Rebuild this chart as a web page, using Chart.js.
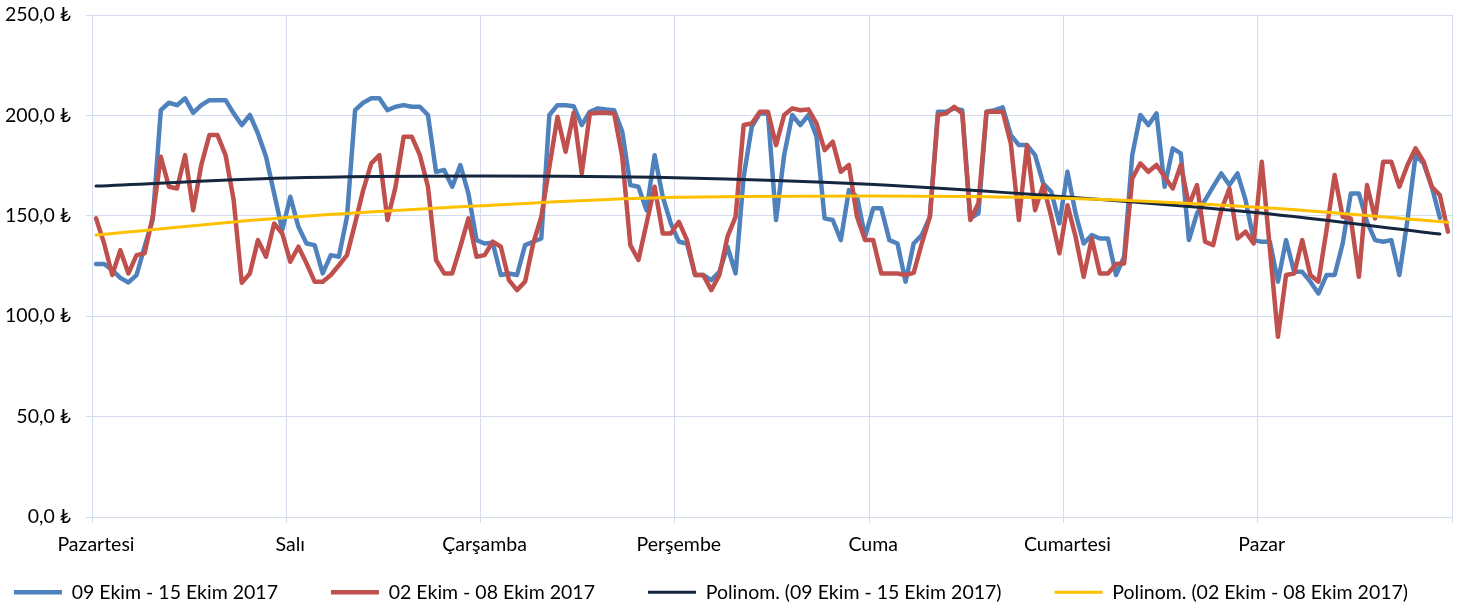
<!DOCTYPE html>
<html>
<head>
<meta charset="utf-8">
<script src="https://cdn.jsdelivr.net/npm/chart.js@4.4.1/dist/chart.umd.min.js"></script>
<style>
html,body{margin:0;padding:0;background:#fff;overflow:hidden;width:1459px;height:607px;}
#wrap{position:relative;width:1459px;height:612px;}
</style>
</head>
<body>
<div id="wrap"><canvas id="c"></canvas></div>
<script>
// Day names (one label per 24 hourly points)
const days = ['Pazartesi', 'Salı', 'Çarşamba', 'Perşembe', 'Cuma', 'Cumartesi', 'Pazar'];
const yTickLabels = ['0,0 ₺', '50,0 ₺', '100,0 ₺', '150,0 ₺', '200,0 ₺', '250,0 ₺'];
const seriesNames = ['09 Ekim - 15 Ekim 2017', '02 Ekim - 08 Ekim 2017',
  'Polinom. (09 Ekim - 15 Ekim 2017)', 'Polinom. (02 Ekim - 08 Ekim 2017)'];

// Hourly values, 09-15 Ekim 2017
const week2 = [
  126, 126, 123, 119.1, 116.8, 120.5, 134.6, 148, 202.6, 206.3, 205.1, 208.5, 201.3, 205.1, 207.6, 207.6, 207.6, 201, 195.2, 200.2, 191, 179.4, 161.1, 142.9,
  159.5, 144.5, 136.2, 135.4, 121.3, 130.4, 129.6, 149.5, 202.6, 206.3, 208.5, 208.5, 202.6, 204.3, 205.1, 204.3, 204.3, 200.2, 171.9, 172.8, 164.5, 175.3, 161.1, 137.9,
  136.2, 136.6, 120.5, 121.3, 120.5, 135.4, 137.1, 138.7, 200.2, 205.1, 205.1, 204.6, 195.2, 201.8, 203.5, 203, 202.6, 191.9, 165.3, 164.5, 152.8, 180.2, 159.5, 146.2,
  137.1, 136.2, 120.5, 120.5, 118, 122.1, 134.6, 121.3, 169.4, 194.3, 201, 201, 147.9, 180.2, 200.2, 195.2, 200.2, 189.4, 148.7, 147.9, 137.9, 162.8, 159.5, 139.6,
  153.7, 153.7, 137.9, 136.2, 117.2, 136.2, 140.4, 149.5, 201.8, 201.8, 203.5, 202.6, 148.7, 151.2, 201.8, 202.6, 204, 190.2, 185.2, 185.2, 180.2, 166.1, 162, 146.2,
  171.9, 151.2, 136.2, 140.4, 138.7, 138.7, 120.5, 129.6, 180.2, 200.2, 195.2, 201, 164.5, 183.6, 181.1, 137.9, 151.2, 157.8, 164.5, 171.1, 165.3, 171.1, 157.8, 137.9,
  137.1, 137.1, 117.2, 137.9, 122.1, 122.1, 117.2, 111.3, 120.5, 120.5, 136.2, 161.1, 161.1, 147, 137.9, 137.1, 137.9, 120.5, 147.9, 180.2, 176.1, 164.5, 149
];

// Hourly values, 02-08 Ekim 2017
const week1 = [
  148.7, 136.2, 120.5, 132.9, 121.3, 130.4, 131.3, 149.5, 179.4, 164.5, 163.6, 180.2, 152.8, 175.3, 190.2, 190.2, 180.2, 157.8, 116.7, 121.3, 137.9, 129.6, 146.2, 141.2,
  127.1, 134.6, 126.3, 117.2, 117.2, 120.5, 125.4, 130.4, 146.2, 162.8, 176.1, 180.2, 147.9, 164.5, 189.4, 189.4, 180.2, 164.5, 128, 121.3, 121.3, 134.6, 148.7, 129.6,
  130.4, 137.1, 134.6, 118, 113, 117.2, 136.2, 149.5, 174.4, 199.3, 181.9, 201.3, 171.1, 201, 201.3, 201.3, 201, 179.4, 135.4, 128, 146.2, 164.5, 141.2, 141.2,
  147, 137.9, 120.5, 120.5, 113, 120.5, 139.6, 149.5, 195.2, 196, 201.8, 201.8, 185.2, 200.2, 203.5, 202.6, 203, 196, 182.7, 186.9, 171.9, 175.3, 149.5, 137.9,
  137.9, 121.3, 121.3, 121.3, 120.5, 121.6, 136.2, 149.5, 200.2, 201, 204.3, 201, 147.9, 156.2, 201.8, 201.8, 201.8, 186, 147.9, 185.2, 152.8, 165.3, 149.5, 131.3,
  155.3, 139.6, 119.6, 138.7, 121.3, 121.3, 126, 126.3, 168.6, 176.1, 171.9, 175.3, 169.4, 163.6, 175.3, 155.3, 165.3, 137.1, 135.4, 152.8, 163.6, 138.7, 142.1, 136.2,
  176.9, 133.7, 89.8, 120.5, 121.3, 137.9, 120.5, 117.2, 142.9, 170.3, 149.5, 148.7, 119.6, 165.3, 148.7, 176.9, 176.9, 164.5, 175.3, 183.6, 176.9, 164.5, 160.3, 142.1
];

// Polynomial trend lines at day boundaries (hour index)
const trendHours2 = [0.5, 24, 48, 72, 96, 120, 144, 166.5];
const trendValues2 = [164.8, 168.8, 169.8, 169.0, 165.7, 159.5, 151.5, 140.9];
const trendHours1 = [0.5, 24, 48, 72, 96, 120, 144, 167.5];
const trendValues1 = [140.4, 149.1, 155.0, 159.2, 159.9, 158.7, 154.2, 146.8];

const hourly = arr => arr.map((v, i) => ({x: i + 0.5, y: v}));
const pairs = (xs, ys) => xs.map((x, i) => ({x: x, y: ys[i]}));

const FONT = {family: 'Lato', size: 19.5};
const GRID = '#d3ddee';

new Chart(document.getElementById('c'), {
  type: 'line',
  data: {
    datasets: [
      {label: seriesNames[0], data: hourly(week2), borderColor: '#4F81BD', backgroundColor: '#4F81BD',
       borderWidth: 4.5, pointRadius: 0, tension: 0, order: 4, borderCapStyle: 'round', borderJoinStyle: 'round'},
      {label: seriesNames[1], data: hourly(week1), borderColor: '#C0504D', backgroundColor: '#C0504D',
       borderWidth: 4.5, pointRadius: 0, tension: 0, order: 3, borderCapStyle: 'round', borderJoinStyle: 'round'},
      {label: seriesNames[2], data: pairs(trendHours2, trendValues2), borderColor: '#15263F', backgroundColor: '#15263F',
       borderWidth: 3, pointRadius: 0, cubicInterpolationMode: 'monotone', order: 2, borderCapStyle: 'round'},
      {label: seriesNames[3], data: pairs(trendHours1, trendValues1), borderColor: '#FFC000', backgroundColor: '#FFC000',
       borderWidth: 3, pointRadius: 0, cubicInterpolationMode: 'monotone', order: 1, borderCapStyle: 'round'}
    ]
  },
  options: {
    responsive: true,
    maintainAspectRatio: false,
    animation: false,
    events: [],
    layout: {padding: {left: -50, right: -13, top: 15, bottom: 0}},
    plugins: {
      tooltip: {enabled: false},
      legend: {
        position: 'bottom',
        labels: {
          usePointStyle: true, pointStyle: 'line', pointStyleWidth: 48,
          padding: 53, color: '#000', font: FONT,
          sort: (a, b) => a.datasetIndex - b.datasetIndex
        }
      }
    },
    scales: {
      x: {
        type: 'linear', min: 0, max: 168,
        afterBuildTicks: s => { s.ticks = [0, 24, 48, 72, 96, 120, 144, 168].map(v => ({value: v})); },
        ticks: {autoSkip: false, maxRotation: 0, labelOffset: 4, mirror: true, padding: -39.2,
                color: '#000', font: FONT,
                callback: v => days[Math.round(v / 24)] || ''},
        grid: {color: GRID, lineWidth: 1, tickLength: 6},
        border: {display: false},
        afterFit: s => { s.height = 12.5; }
      },
      y: {
        position: 'left', min: 0, max: 250,
        ticks: {stepSize: 50, padding: 15, color: '#000', font: FONT,
                callback: v => yTickLabels[Math.round(v / 50)]},
        grid: {color: GRID, lineWidth: 1, tickLength: 6},
        border: {display: false},
        afterFit: s => { s.width = 142; s.paddingTop = 0; s.paddingBottom = 0; }
      },
      y2: {
        position: 'right', min: 0, max: 250,
        ticks: {display: false}, grid: {display: false}, border: {display: false},
        afterFit: s => { s.width = 20; s.paddingTop = 0; s.paddingBottom = 0; }
      }
    }
  }
});
</script>
</body>
</html>
